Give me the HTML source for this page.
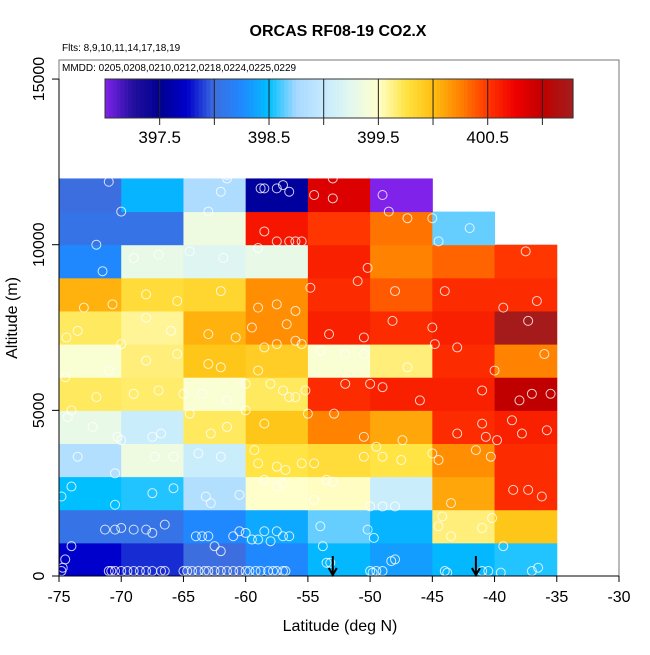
<!DOCTYPE html>
<html><head><meta charset="utf-8"><style>
html,body{margin:0;padding:0;background:#fff;}
svg text{font-family:"Liberation Sans",Arial,sans-serif;}
</style></head><body>
<svg id="chart" width="650" height="650" viewBox="0 0 650 650">
<text x="338" y="36" text-anchor="middle" font-size="16" font-weight="bold">ORCAS RF08-19 CO2.X</text>
<text x="62" y="51" font-size="10">Flts: 8,9,10,11,14,17,18,19</text>
<text x="62" y="71" font-size="10">MMDD: 0205,0208,0210,0212,0218,0224,0225,0229</text>
<g id="cells"></g>
<g id="pts"></g>
<g id="cbar"></g>
<g id="axes"></g>
<text x="340" y="631" text-anchor="middle" font-size="16">Latitude (deg N)</text>
<text transform="translate(17,318) rotate(-90)" text-anchor="middle" font-size="16">Altitude (m)</text>
</svg>
<script>
// bins
const latEdges = [-75,-70,-65,-60,-55,-50,-45,-40,-35];
const altStep = 1000;
// CO2 values (ppm), rows from 0-1000 m upward; null = no data
const row0 = [397.75,397.85,398.0,398.25,398.47,398.35,398.47,398.55];
const row1 = [398.05,398.05,398.25,398.4,398.65,398.45,399.65,399.95];
const row2 = [398.5,398.55,398.85,399.5,399.52,399.05,400.1,400.55];
const row3 = [398.85,399.35,399.05,399.75,399.8,399.75,400.2,400.55];
const row4 = [399.3,399.05,399.7,399.95,400.25,400.1,400.55,400.6];
const row5 = [399.7,399.68,399.45,399.7,400.55,400.6,400.6,401.0];
const row6 = [399.45,399.65,399.95,399.9,399.45,399.65,400.55,400.25];
const row7 = [399.7,399.6,400.05,400.2,400.6,400.55,400.6,401.25];
const row8 = [400.05,399.8,399.85,400.2,400.55,400.38,400.55,400.55];
const row9 = [398.25,399.3,399.2,399.3,400.6,400.25,400.35,400.5];
const row10 = [398.05,398.05,399.35,400.65,400.5,400.3,398.65,null];
const row11 = [398.0,398.45,398.8,397.55,400.85,397.0,null,null];
const rows = [row0,row1,row2,row3,row4,row5,row6,row7,row8,row9,row10,row11];
const xTicks = [-75,-70,-65,-60,-55,-50,-45,-40,-35,-30];
const yTicks = [0,5000,10000,15000];
const cbTicks = [397.5,398,398.5,399,399.5,400,400.5,401];
const cbLabels = ["397.5","398.5","399.5","400.5"];
const cbLabelVals = [397.5,398.5,399.5,400.5];
const arrowLats = [-53,-41.5];
// sample points: latitude, altitude (m)
const ptLat = [-74.8,-74.7,-71,-70.8,-70.5,-70,-69.5,-69,-68.5,-68,-67.5,-66.8,-66.5,-65,-64.7,-64.3,-63.8,-63.3,-63,-62.5,-62,-61.5,-61,-60.5,-60,-59.7,-59.2,-58.8,-58.2,-57.8,-57.5,-57,-56.8,-53.5,-53.2,-50,-49.8,-49.5,-49,-48.3,-48,-44,-43.8,-41,-40.5,-39.5,-37,-36.5,
 -74.5,-74,-71.3,-70.5,-70,-69,-68,-67.5,-66.5,-64,-63.5,-63,-62.5,-62,-61,-60.5,-60,-59.5,-59,-58.5,-58,-57.5,-57,-56.5,-54,-53.8,-50.2,-49.7,-44.5,-44.2,-43.5,-41,-40.2,-39.3,
 -74.8,-74,-70.5,-67.5,-65.8,-63.2,-62.8,-60.5,-58.5,-57.5,-57,-54.5,-53,-50,-49,-48,-43.5,-37.3,-38.5,-36.2,
 -73.5,-70.5,-67.3,-65.8,-63.8,-62,-59.3,-59,-57.5,-56.8,-55.5,-54.5,-53.5,-50.5,-49,-47.5,-45,-44.5,-41.5,-40.3,-39.8,-37.8,-38.6,-35.8,
 -74.3,-72.3,-70.3,-70,-67.5,-66.8,-64.5,-62.8,-61.5,-60,-58.5,-56.5,-55,-52.9,-50.5,-49.5,-47.4,-43,-41,-40.7,
 -74,-72,-69,-67,-65,-63.5,-61.5,-60,-58,-57,-56,-55.2,-52,-50,-49,-46,-41,-40,-37,-38,-35.5,
 -74.5,-71,-68,-65.5,-63,-62,-59,-58.5,-57.5,-56,-54,-52,-50.5,-47,-43,-36,
 -74.4,-73.5,-70,-68,-66,-63,-60.8,-59.5,-56.7,-55.5,-53.3,-50.5,-48.2,-45,-44.8,-39.3,-37.3,
 -73,-70.7,-68,-65.5,-62,-59,-57.5,-56,-54.8,-51,-48,-44,-36.6,
 -71.5,-69,-67,-64.5,-61.8,-59,-57.5,-56.5,-56,-55.5,-50.2,-45,-44.5,-37.5,
 -72,-63,-61.5,-58.5,-53,-47,-42,
 -71,-70,-62,-61.5,-58.8,-58.5,-57.5,-57,-56.5,-54.5,-53,-49,-48.5];
const ptAlt = [150,250,150,150,150,150,150,150,150,150,150,150,150,150,150,150,150,150,150,150,150,150,150,150,150,150,150,150,150,150,150,150,150,400,400,150,100,150,150,450,500,150,100,150,150,100,150,250,
 500,900,1400,1400,1450,1400,1400,1300,1550,1200,1200,1200,900,750,1200,1350,1300,1100,1100,1350,1050,1350,1200,1200,1500,900,1400,1150,1500,1800,1200,1450,1750,900,
 2400,2700,2150,2500,2650,2400,2200,2450,2900,2700,2800,2300,2850,2100,2100,2100,2200,2600,2600,2400,
 3600,3100,3600,3600,3700,3600,3800,3400,3300,3200,3400,3400,2900,3600,3600,3500,3700,3500,3800,3600,4100,4300,4700,4400,
 4800,4500,4200,4100,4200,4300,4900,4300,4500,5000,4600,5400,4900,4900,4200,3900,4100,4300,4600,4200,
 5000,5400,5500,5600,5500,5500,5300,5800,5800,5600,5400,5600,5800,5800,5700,5300,5600,6200,5500,5300,5500,
 6000,6200,6500,6700,6400,6300,6200,6900,7000,7100,6800,6700,6700,6300,6900,6700,
 7200,7400,7000,7800,7400,7300,7200,7500,7600,7000,7300,7200,7700,7500,7000,8100,7700,
 8100,8200,8500,8300,8600,8100,8200,8000,8700,8900,8600,8600,8300,
 9200,9600,9700,9800,9600,9900,10100,10100,10100,10100,9300,10800,10100,9800,
 10000,11000,12100,10400,12000,10800,10500,
 11900,11000,11600,12000,11700,11700,11700,11800,11600,11500,11400,11500,11000];
const cmapV = [397.0,397.25,397.5,397.75,398.0,398.25,398.5,398.75,399.0,399.25,399.5,399.75,400.0,400.25,400.5,400.75,401.0,401.3];
const cmapC = ["#8022ea","#2410a0","#000090","#0000cc","#3c6ee0","#2088ff","#00bfff","#a8d8ff","#c4eaff","#e4f8ee","#ffffcc","#ffe444","#ffbe10","#ff8200","#ff3600","#f00000","#c00000","#a02020"];

const X0=59, X1=619, Y0=576, PXK=33.13;
const xs = v => X0 + (v+75)*(X1-X0)/45;
const ys = a => Y0 - a/1000*PXK;
const CB0=105, CB1=573, CBV0=397.0, CBV1=401.28;
const cbx = v => CB0 + (v-CBV0)*(CB1-CB0)/(CBV1-CBV0);
function hex(h){return [1,3,5].map(i=>parseInt(h.substr(i,2),16));}
function color(v){
  if(v<=cmapV[0]) return cmapC[0];
  for(let i=1;i<cmapV.length;i++){ if(v<=cmapV[i]){ const t=(v-cmapV[i-1])/(cmapV[i]-cmapV[i-1]); const a=hex(cmapC[i-1]),b=hex(cmapC[i]); return 'rgb('+a.map((x,k)=>Math.round(x+(b[k]-x)*t)).join(',')+')'; } }
  return cmapC[cmapC.length-1];
}
const NS='http://www.w3.org/2000/svg';
function mk(tag,attrs,parent){const e=document.createElementNS(NS,tag);for(const k in attrs)e.setAttribute(k,attrs[k]);parent.appendChild(e);return e;}
const cells=document.getElementById('cells');
rows.forEach((r,ri)=>r.forEach((v,ci)=>{
  if(v===null) return;
  const x=xs(latEdges[ci]), x2=xs(latEdges[ci+1]), y=ys((ri+1)*altStep), y2=ys(ri*altStep);
  const e=mk('rect',{x:x,y:y,width:x2-x+0.5,height:y2-y+0.5,fill:color(v)},cells);
  
  
}));
const pts=document.getElementById('pts');
ptLat.forEach((la,i)=>{
  const e=mk('circle',{cx:xs(la),cy:ys(ptAlt[i]),r:4.5,fill:'none',stroke:'rgba(255,255,255,0.8)','stroke-width':1},pts);
  
  
});
arrowLats.forEach(la=>{
  const g=mk('g',{stroke:'#000','stroke-width':2,fill:'none'},pts);
  
  
  mk('line',{x1:xs(la),y1:556,x2:xs(la),y2:575},g);
  mk('polyline',{points:(xs(la)-4)+',568 '+xs(la)+',575 '+(xs(la)+4)+',568'},g);
});
const cb=document.getElementById('cbar');
const N=120;
for(let i=0;i<N;i++){const v=CBV0+(CBV1-CBV0)*(i+0.5)/N; mk('rect',{x:CB0+(CB1-CB0)*i/N,y:79,width:(CB1-CB0)/N+0.6,height:39,fill:color(v)},cb);}
mk('rect',{x:CB0,y:79,width:CB1-CB0,height:39,fill:'none',stroke:'#333','stroke-width':1},cb);
cbTicks.forEach(v=>{mk('line',{x1:cbx(v),y1:79,x2:cbx(v),y2:125,stroke:'#222','stroke-width':1},cb);});
cbLabelVals.forEach((v,i)=>{const t=mk('text',{x:cbx(v),y:143,'text-anchor':'middle','font-size':17},cb);t.textContent=cbLabels[i];
  
  });
const ax=document.getElementById('axes');
mk('rect',{x:X0,y:60,width:X1-X0,height:Y0-60,fill:'none',stroke:'#777','stroke-width':1},ax);
mk('line',{x1:X0,y1:Y0,x2:X1,y2:Y0,stroke:'#000','stroke-width':1},ax);
mk('line',{x1:X0,y1:ys(0),x2:X0,y2:ys(15000),stroke:'#000','stroke-width':1},ax);
xTicks.forEach(v=>{mk('line',{x1:xs(v),y1:Y0,x2:xs(v),y2:Y0+6,stroke:'#000'},ax);
  const t=mk('text',{x:xs(v),y:602,'text-anchor':'middle','font-size':16},ax);t.textContent=String(v);
  
  });
yTicks.forEach(v=>{mk('line',{x1:X0,y1:ys(v),x2:X0-7,y2:ys(v),stroke:'#000'},ax);
  const t=mk('text',{transform:'translate(44,'+ys(v)+') rotate(-90)','text-anchor':'middle','font-size':16},ax);t.textContent=String(v);
  
  });
</script>
</body></html>
